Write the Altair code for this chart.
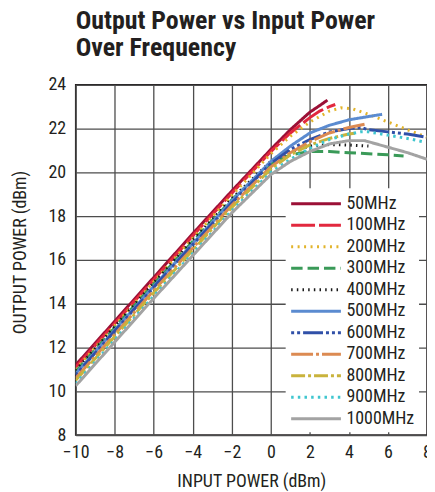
import altair as alt
import pandas as pd

freqs = ["50MHz", "100MHz", "200MHz", "300MHz", "400MHz", "500MHz",
         "600MHz", "700MHz", "800MHz", "900MHz", "1000MHz"]

x_50 = [-10, -8, -6, -4, -2, 0, 1, 2, 2.5, 2.9]
y_50 = [11.2, 13.2, 15.2, 17.2, 19.15, 21.05, 21.95, 22.75, 23.05, 23.3]

x_100 = [-10, -8, -6, -4, -2, 0, 1, 2, 2.5, 3, 3.3]
y_100 = [11.1, 13.1, 15.1, 17.1, 19.05, 20.95, 21.8, 22.5, 22.8, 23.0, 23.1]

x_200 = [-10, -8, -6, -4, -2, 0, 1, 2, 3, 3.6, 4.2, 5, 6, 7, 8]
y_200 = [11.0, 13.0, 15.0, 17.0, 18.95, 20.85, 21.65, 22.3, 22.8, 22.95, 22.9, 22.65, 22.3, 21.95, 21.6]

x_300 = [-10, -8, -6, -4, -2, 0, 1, 2, 3, 4, 5, 6, 6.8]
y_300 = [10.9, 12.9, 14.9, 16.85, 18.75, 20.4, 20.8, 20.95, 20.95, 20.9, 20.85, 20.8, 20.75]

x_400 = [-10, -8, -6, -4, -2, 0, 1, 2, 3, 4, 5]
y_400 = [10.95, 12.95, 14.95, 16.9, 18.8, 20.5, 20.95, 21.2, 21.27, 21.25, 21.2]

x_500 = [-10, -8, -6, -4, -2, 0, 1, 2, 3, 4, 5, 5.7]
y_500 = [10.8, 12.8, 14.8, 16.75, 18.7, 20.5, 21.2, 21.8, 22.15, 22.4, 22.55, 22.65]

x_600 = [-10, -8, -6, -4, -2, 0, 1, 2, 3, 4, 4.6, 5, 6, 7, 8]
y_600 = [10.75, 12.75, 14.75, 16.7, 18.6, 20.4, 21.05, 21.5, 21.85, 22.0, 22.05, 21.95, 21.85, 21.75, 21.6]

x_700 = [-10, -8, -6, -4, -2, 0, 1, 2, 3, 4, 4.8]
y_700 = [10.6, 12.6, 14.6, 16.55, 18.5, 20.25, 20.9, 21.4, 21.8, 22.05, 22.2]

x_800 = [-10, -8, -6, -4, -2, 0, 1, 2, 3, 4, 4.4]
y_800 = [10.5, 12.5, 14.5, 16.45, 18.4, 20.15, 20.8, 21.25, 21.55, 21.75, 21.8]

x_900 = [-10, -8, -6, -4, -2, 0, 1, 2, 3, 4, 4.6, 5, 6, 7, 7.8]
y_900 = [10.35, 12.35, 14.35, 16.3, 18.25, 20.0, 20.6, 21.1, 21.5, 21.75, 21.85, 21.85, 21.7, 21.55, 21.4]

x_1000 = [-10, -8, -6, -4, -2, 0, 1, 2, 3, 4, 4.8, 5, 6, 7, 8]
y_1000 = [10.25, 12.25, 14.25, 16.2, 18.15, 19.9, 20.5, 20.95, 21.3, 21.45, 21.45, 21.4, 21.15, 20.9, 20.6]

series = [
    (freqs[0], x_50, y_50), (freqs[1], x_100, y_100), (freqs[2], x_200, y_200),
    (freqs[3], x_300, y_300), (freqs[4], x_400, y_400), (freqs[5], x_500, y_500),
    (freqs[6], x_600, y_600), (freqs[7], x_700, y_700), (freqs[8], x_800, y_800),
    (freqs[9], x_900, y_900), (freqs[10], x_1000, y_1000),
]

rows = []
for i, (name, xs, ys) in enumerate(series):
    for j, (xv, yv) in enumerate(zip(xs, ys)):
        rows.append({"freq": name, "x": xv, "y": yv, "k": i, "o": j})
df = pd.DataFrame(rows)

colors = ["#9b1036", "#e2283e", "#e2b42c", "#3a9a58", "#1a1a1a", "#5b8bd0",
          "#3050a8", "#dc8a52", "#c9b33c", "#40c6cf", "#a3a3a3"]
dashes = [[1, 0], [24, 4], [2, 4.5], [11.5, 5], [1.5, 4.2], [1, 0],
          [3, 3, 3, 3, 20, 3], [22, 3, 3, 3], [14, 3, 3, 3], [2.5, 4.2], [1, 0]]

FONT = "Roboto Condensed, Liberation Sans Narrow, Arial Narrow, Roboto, sans-serif"

leg = alt.Legend(
    title=None, orient="none", legendX=211, legendY=104,
    fillColor="white", padding=4, symbolType="M-1,0H4", symbolSize=400,
    symbolStrokeWidth=3, labelFont=FONT, labelFontSize=18, labelColor="#231f20",
    labelOffset=34, rowPadding=0.6, labelLimit=200,
)

chart = alt.Chart(df).mark_line(strokeWidth=3, clip=True).encode(
    x=alt.X("x:Q", scale=alt.Scale(domain=[-10, 8], nice=False),
            axis=alt.Axis(values=list(range(-10, 9, 2)), title="INPUT POWER (dBm)",
                          labelPadding=8, titlePadding=12, labelOverlap=False,
                          labelFlush=False)),
    y=alt.Y("y:Q", scale=alt.Scale(domain=[8, 24], nice=False),
            axis=alt.Axis(values=list(range(8, 25, 2)), title="OUTPUT POWER (dBm)",
                          labelPadding=10, titleY=168, titleX=-46, labelOverlap=False,
                          labelFlush=False)),
    color=alt.Color("freq:N", sort=freqs, scale=alt.Scale(domain=freqs, range=colors), legend=leg),
    strokeDash=alt.StrokeDash("freq:N", sort=freqs, scale=alt.Scale(domain=freqs, range=dashes), legend=leg),
    order=alt.Order("o:Q"),
).properties(
    width=353, height=352,
    autosize="none",
    padding={"left": 68, "top": 76, "right": 0, "bottom": 56},
    title=alt.TitleParams(
        text=["Output Power vs Input Power", "Over Frequency"],
        anchor="start", frame="group", font=FONT, fontSize=26, fontWeight="bold",
        color="#231f20", offset=15, lineHeight=27,
    ),
).configure_view(
    stroke="#231f20", strokeWidth=1.5
).configure_axis(
    domain=False, ticks=False, grid=True, gridColor="#4d4d4d", gridWidth=1.3,
    gridOpacity=1, labelFont=FONT, labelFontSize=18, labelColor="#231f20",
    titleFont=FONT, titleFontSize=18, titleFontWeight="normal", titleColor="#231f20",
)

chart.save("out.html", embed_options={"renderer": "svg", "actions": False})
